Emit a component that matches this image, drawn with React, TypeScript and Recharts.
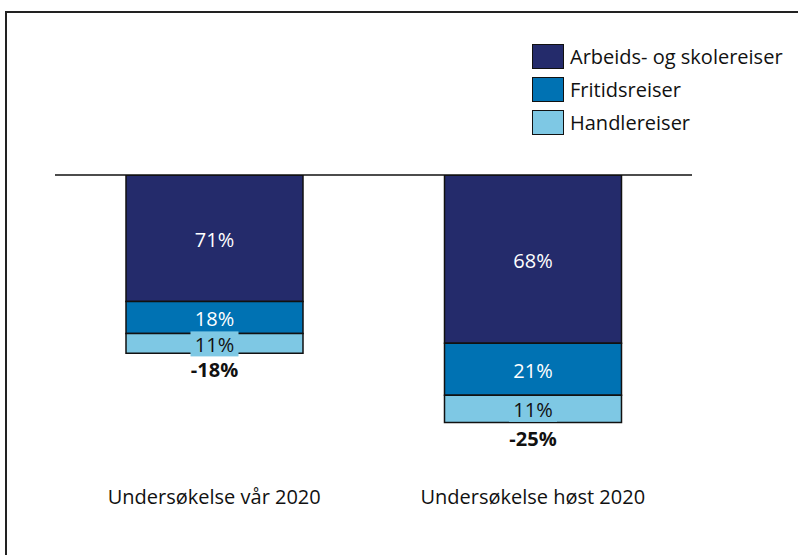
import React from 'react';
import { BarChart, Bar, XAxis, YAxis, ReferenceLine, LabelList } from 'recharts';

const categories = ['Undersøkelse vår 2020', 'Undersøkelse høst 2020'];
const totals = [-18, -25];
const seriesNames = ['Arbeids- og skolereiser', 'Fritidsreiser', 'Handlereiser'];
const arbeidsShare = [71, 68];
const fritidShare = [18, 21];
const handelShare = [11, 11];

const colors = ['#242B6B', '#0072B3', '#7EC8E4'];
const labelColors = ['#ffffff', '#ffffff', '#111111'];
const FONT = '"Open Sans", sans-serif';
const FS = 20;

const shares = [arbeidsShare, fritidShare, handelShare];
const keys = ['arbeid', 'fritid', 'handel'];

// segment heights = total change split by share
const data = categories.map((name, i) => ({
  name,
  total: totals[i],
  arbeid: (totals[i] * arbeidsShare[i]) / 100,
  fritid: (totals[i] * fritidShare[i]) / 100,
  handel: (totals[i] * handelShare[i]) / 100,
}));

const makeShareLabel = (s: number) => (props: any) => {
  const { x, y, width, height, index } = props;
  const top = Math.min(y, y + height);
  const h = Math.abs(height);
  const cx = x + width / 2;
  const cy = top + h / 2;
  const txt = `${shares[s][index]}%`;
  return (
    <g>
      {s === 2 && <rect x={cx - 24} y={cy - 12} width={48} height={25} fill={colors[2]} />}
      <text x={cx} y={cy + 1} textAnchor="middle" dominantBaseline="central" fill={labelColors[s]}
        fontFamily={FONT} fontSize={FS}>{txt}</text>
    </g>
  );
};

const totalLabel = (props: any) => {
  const { x, y, width, height, index } = props;
  const bottom = Math.max(y, y + height);
  return (
    <text x={x + width / 2} y={bottom + 16} textAnchor="middle" dominantBaseline="central"
      fill="#111" fontFamily={FONT} fontSize={FS} fontWeight="bold">{`${totals[index]}%`}</text>
  );
};

export default function App() {
  return (
    <div style={{ position: 'absolute', left: 0, top: 0, width: 798, height: 555, background: '#fff', overflow: 'hidden' }}>
      <div style={{ position: 'absolute', left: 5, top: 11, width: 800, height: 560, borderTop: '2px solid #222', borderLeft: '2px solid #222' }} />
      <BarChart width={798} height={555} data={data} margin={{ top: 175, right: 106, bottom: 43, left: 55 }}
        style={{ position: 'absolute', left: 0, top: 0 }}>
        <XAxis dataKey="name" axisLine={false} tickLine={false} height={40} tickMargin={12}
          tick={{ fontFamily: FONT, fontSize: FS, fill: '#111' }} interval={0} />
        <YAxis hide domain={[-30, 0]} allowDataOverflow />
        {keys.map((k, s) => (
          <Bar key={k} dataKey={k} name={seriesNames[s]} stackId="a" fill={colors[s]} stroke="#111"
            strokeWidth={1.5} barSize={177} isAnimationActive={false}>
            <LabelList dataKey={k} content={makeShareLabel(s)} />
            {s === 2 && <LabelList dataKey="total" content={totalLabel} />}
          </Bar>
        ))}
        <ReferenceLine y={0} stroke="#111" strokeWidth={1.5} />
      </BarChart>
      <div style={{ position: 'absolute', left: 532, top: 40, fontFamily: FONT, fontSize: FS, color: '#111' }}>
        {seriesNames.map((n, i) => (
          <div key={n} style={{ display: 'flex', alignItems: 'center', height: 33 }}>
            <div style={{ width: 30, height: 23, background: colors[i], border: '1.5px solid #111', marginRight: 6 }} />
            <span>{n}</span>
          </div>
        ))}
      </div>
    </div>
  );
}
